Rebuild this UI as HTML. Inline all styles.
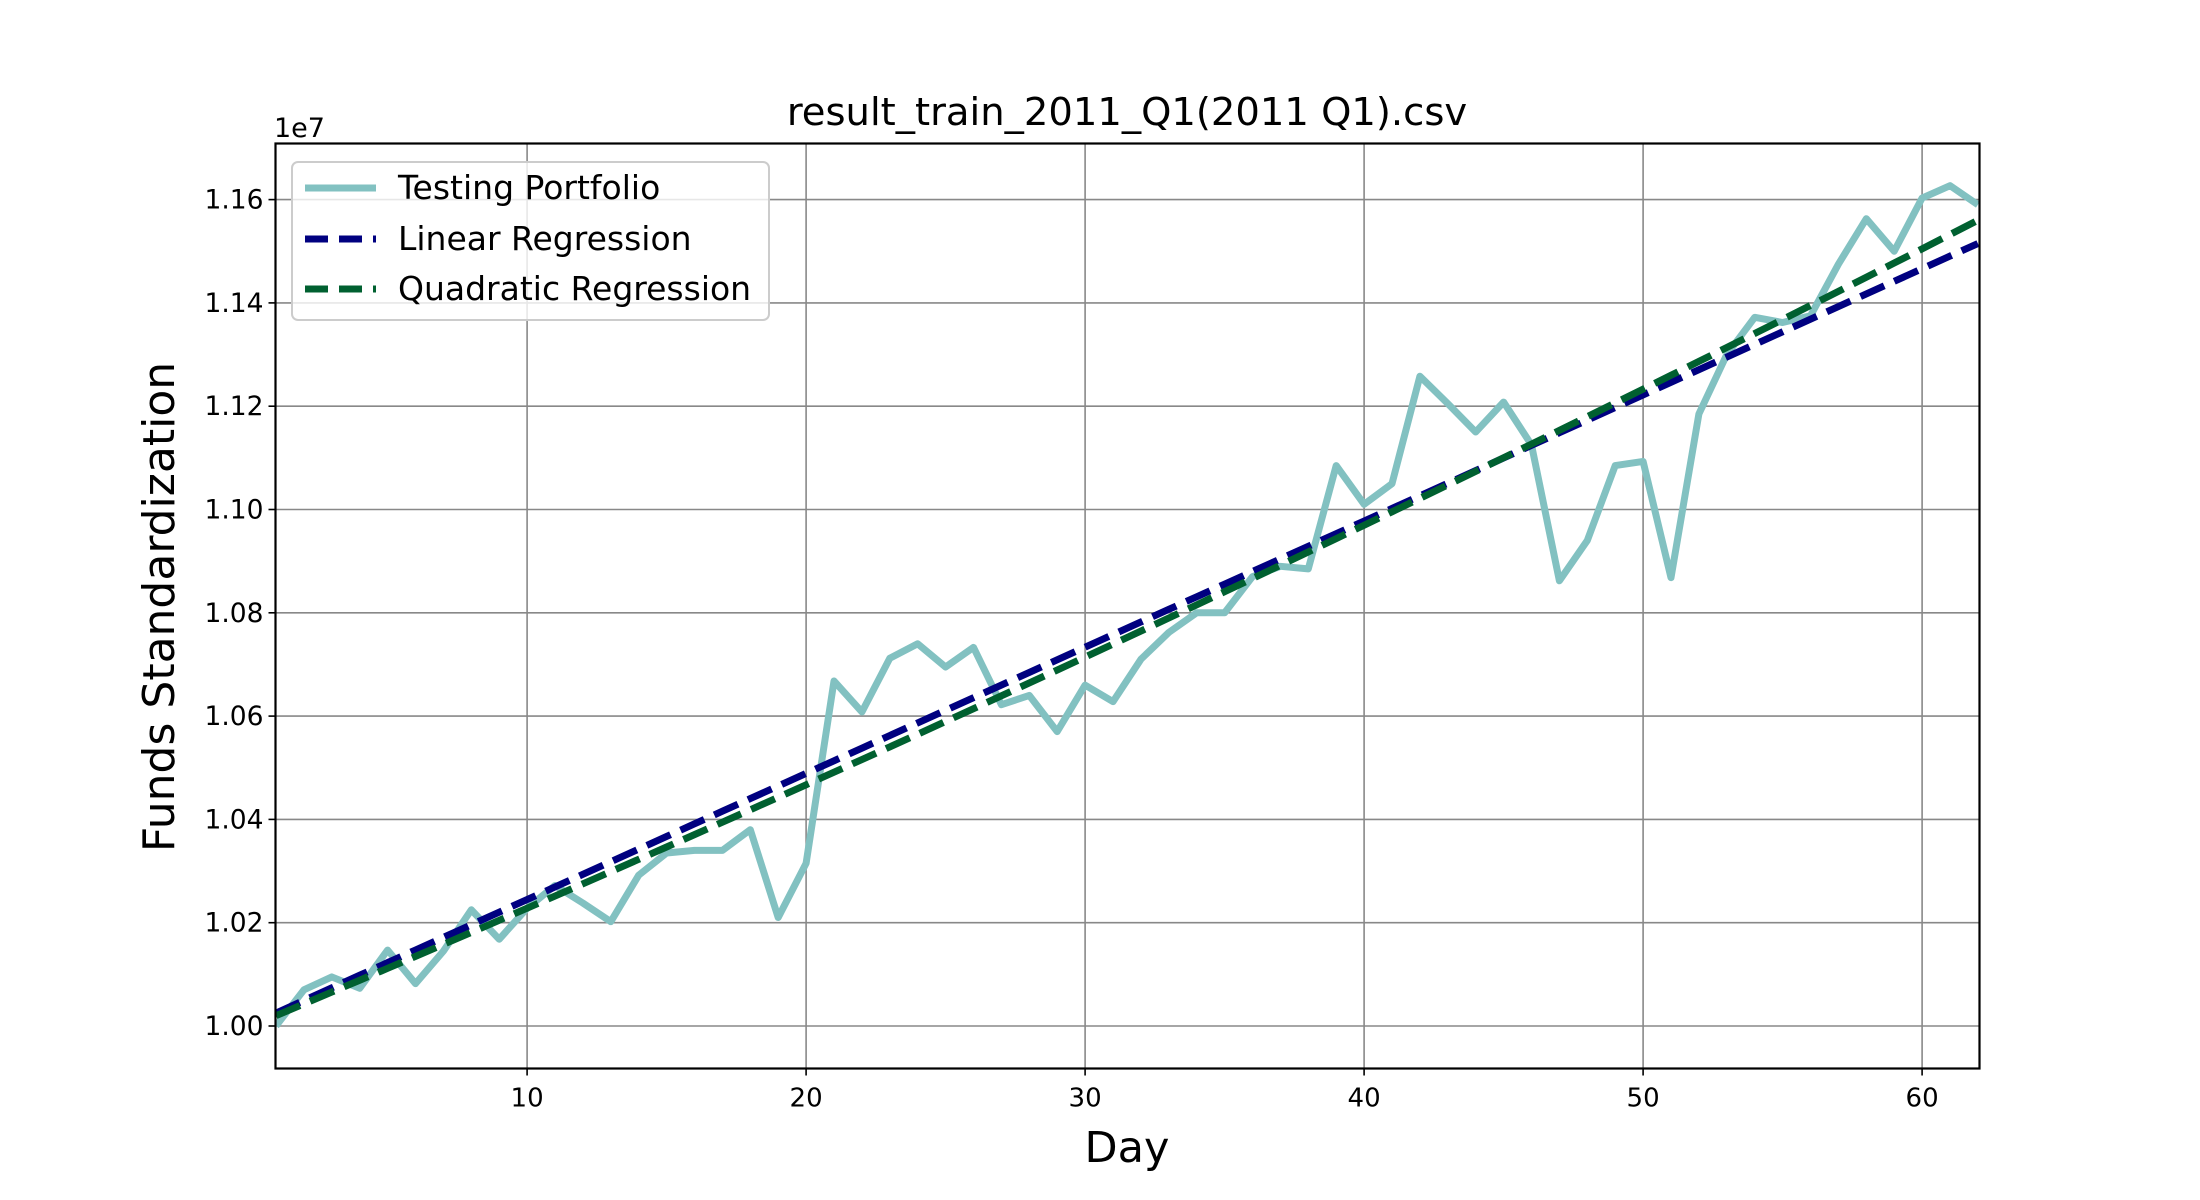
<!DOCTYPE html>
<html><head><meta charset="utf-8"><style>
html,body{margin:0;padding:0;background:#fff;}
svg{display:block;font-family:"DejaVu Sans","Liberation Sans",sans-serif;}
</style></head><body>
<svg id="chart" width="2200" height="1200" viewBox="0 0 2200 1200" xmlns="http://www.w3.org/2000/svg">
<rect width="2200" height="1200" fill="#fff"/>
<g id="grid"></g>
<g id="series"></g>
<rect x="275.5" y="143.5" width="1704" height="925" fill="none" stroke="#000" stroke-width="2.2"/>
<g id="ticks"></g>
<text x="1127" y="125" font-size="38.5" text-anchor="middle">result_train_2011_Q1(2011 Q1).csv</text>
<text x="274" y="137" font-size="27">1e7</text>
<text x="1127" y="1162" font-size="43" text-anchor="middle">Day</text>
<text transform="translate(174,607) rotate(-90)" font-size="44" text-anchor="middle">Funds Standardization</text>
<g>
<rect x="292" y="162" width="477" height="158" rx="6" fill="#fff" fill-opacity="0.8" stroke="#ccc" stroke-width="2"/>
<g>
<line x1="305" y1="188" x2="376" y2="188" stroke="#82c1c1" stroke-width="7"/>
<text x="398" y="199" font-size="33">Testing Portfolio</text></g>
<g>
<line x1="305" y1="239" x2="376" y2="239" stroke="#000080" stroke-width="7" stroke-dasharray="23,11"/>
<text x="398" y="250" font-size="33">Linear Regression</text></g>
<g>
<line x1="305" y1="289" x2="376" y2="289" stroke="#006030" stroke-width="7" stroke-dasharray="23,11"/>
<text x="398" y="300" font-size="33">Quadratic Regression</text></g>
</g>
</svg>
<script>
const days = [1,2,3,4,5,6,7,8,9,10,11,12,13,14,15,16,17,18,19,20,21,22,23,24,25,26,27,28,29,30,31,32,33,34,35,36,37,38,39,40,41,42,43,44,45,46,47,48,49,50,51,52,53,54,55,56,57,58,59,60,61,62];
const funds = [1.000,1.007,1.0095,1.0073,1.0147,1.0082,1.0145,1.0225,1.0168,1.0228,1.0272,1.0238,1.0202,1.0292,1.0335,1.0340,1.0340,1.0380,1.0210,1.0315,1.0668,1.0608,1.0712,1.0740,1.0695,1.0733,1.0622,1.0640,1.0570,1.0660,1.0628,1.0710,1.0762,1.0800,1.0800,1.0870,1.0890,1.0885,1.1085,1.1010,1.1050,1.1258,1.1205,1.1150,1.1208,1.1125,1.0862,1.0940,1.1085,1.1093,1.0868,1.1185,1.1300,1.1372,1.1362,1.1375,1.1475,1.1563,1.1500,1.1603,1.1627,1.1590];
// regression fitted values at anchor days
const linearDays = [1,62];
const linearValues = [1.0025,1.1515];
const quadDays = [1,31.5,62];
const quadValues = [1.0020,1.0752,1.1560];
const xTicks = [10,20,30,40,50,60];
const yTicks = [1.00,1.02,1.04,1.06,1.08,1.10,1.12,1.14,1.16];
const yTickLabels = ["1.00","1.02","1.04","1.06","1.08","1.10","1.12","1.14","1.16"];

const NS="http://www.w3.org/2000/svg";
const X0=275.5,X1=1979.5,Y0=1068.5,Y1=143.5;
const xMin=1;
function sx(v){return 276+(v-xMin)*27.9;}
function sy(v){return 1026-(v-1.0)*5165;}
function mk(tag,attrs,parent){const e=document.createElementNS(NS,tag);for(const k in attrs)e.setAttribute(k,attrs[k]);parent.appendChild(e);return e;}
const grid=document.getElementById('grid'),ticks=document.getElementById('ticks'),ser=document.getElementById('series');
xTicks.forEach(t=>{const x=sx(t);
 const g=mk('line',{x1:x,x2:x,y1:Y1,y2:Y0,stroke:'#888',"stroke-width":1.6},grid);
 
 
 const tk=mk('line',{x1:x,x2:x,y1:Y0,y2:Y0+7,stroke:'#000',"stroke-width":1.6},ticks);
 
 
 const tx=mk('text',{x:x,y:Y0+38,"font-size":26,"text-anchor":"middle"},ticks);tx.textContent=t;
 
 
});
yTicks.forEach((t,i)=>{const y=sy(t);
 const g=mk('line',{x1:X0,x2:X1,y1:y,y2:y,stroke:'#888',"stroke-width":1.6},grid);
 
 
 const tk=mk('line',{x1:X0-7,x2:X0,y1:y,y2:y,stroke:'#000',"stroke-width":1.6},ticks);
 
 
 const tx=mk('text',{x:X0-12,y:y+9,"font-size":26.5,"text-anchor":"end"},ticks);tx.textContent=yTickLabels[i];
 
 
});
// Lagrange interpolation through fitted anchor values
function lag(xs,ys,x){let s=0;for(let i=0;i<xs.length;i++){let p=ys[i];for(let j=0;j<xs.length;j++)if(j!==i)p*=(x-xs[j])/(xs[i]-xs[j]);s+=p;}return s;}
const cp=mk('clipPath',{id:'clip'},document.getElementById('chart'));
mk('rect',{x:X0,y:Y1,width:X1-X0,height:Y0-Y1},cp);
const tp=mk('polyline',{points:days.map((d,i)=>sx(d)+','+sy(funds[i])).join(' '),fill:'none',stroke:'#82c1c1',"stroke-width":7,"stroke-linejoin":"round","clip-path":"url(#clip)"},ser);


const lp=mk('polyline',{points:days.map(d=>sx(d)+','+sy(lag(linearDays,linearValues,d))).join(' '),fill:'none',stroke:'#000080',"stroke-width":7,"stroke-dasharray":"26,11","clip-path":"url(#clip)"},ser);


const qp=mk('polyline',{points:days.map(d=>sx(d)+','+sy(lag(quadDays,quadValues,d))).join(' '),fill:'none',stroke:'#006030',"stroke-width":7,"stroke-dasharray":"26,11","clip-path":"url(#clip)"},ser);


</script>
</body></html>
